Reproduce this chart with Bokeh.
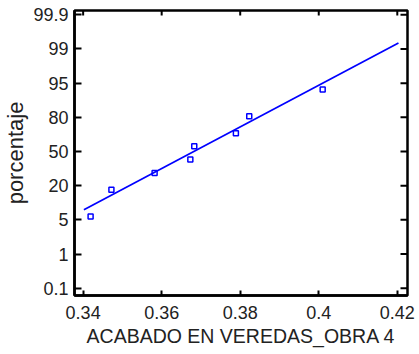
import numpy as np
from bokeh.plotting import figure
from bokeh.models import FixedTicker, Range1d
from bokeh.embed import file_html
from bokeh.resources import INLINE

# ---- data ----
x_ticks = [0.34, 0.36, 0.38, 0.4, 0.42]
x_tick_labels = ["0.34", "0.36", "0.38", "0.4", "0.42"]

y_tick_pcts = [0.1, 1, 5, 20, 50, 80, 95, 99, 99.9]
y_tick_labels = ["0.1", "1", "5", "20", "50", "80", "95", "99", "99.9"]

obs_x = [0.3419, 0.3472, 0.3582, 0.3673, 0.3683, 0.3789, 0.3823, 0.4010]
obs_pct = [6.5, 18.2, 31.1, 43.0, 54.7, 66.1, 80.5, 92.2]

fit_x = [0.3402, 0.4203]
fit_pct = [9.4, 99.16]

# probability-paper positions: tick labels evenly spaced on the axis
y_tick_pos = list(range(len(y_tick_pcts)))


def to_pos(pcts):
    return np.interp(pcts, y_tick_pcts, y_tick_pos)


FONT = "Liberation Sans"
TXT = "#222222"
BLUE = "#0000ff"

x_lo, x_hi = 0.3378, 0.4226
y_lo, y_hi = -0.214, 8.126

p = figure(width=419, height=354,
           x_range=Range1d(x_lo, x_hi), y_range=Range1d(y_lo, y_hi),
           output_backend="svg", toolbar_location=None,
           min_border_left=73, min_border_right=12,
           min_border_top=10, min_border_bottom=59)
p.grid.visible = False
p.outline_line_color = "black"
p.outline_line_width = 2.5
p.background_fill_color = "white"
p.border_fill_color = "white"

# bottom axis
xa = p.xaxis[0]
xa.ticker = FixedTicker(ticks=x_ticks)
xa.major_label_overrides = {t: l for t, l in zip(x_ticks, x_tick_labels)}
xa.axis_label = "ACABADO EN VEREDAS_OBRA 4"
# left axis
ya = p.yaxis[0]
ya.ticker = FixedTicker(ticks=y_tick_pos)
ya.major_label_overrides = {t: l for t, l in zip(y_tick_pos, y_tick_labels)}
ya.axis_label = "porcentaje"

for ax in (xa, ya):
    ax.axis_line_width = 2.5
    ax.axis_line_color = "black"
    ax.major_tick_line_width = 2
    ax.major_tick_line_color = "black"
    ax.major_tick_out = 0
    ax.minor_tick_line_color = None
    ax.major_label_text_font = FONT
    ax.major_label_text_font_size = "18px"
    ax.major_label_text_color = TXT
    ax.axis_label_text_font = FONT
    ax.axis_label_text_font_style = "normal"
    ax.axis_label_text_color = TXT

xa.major_tick_in = 5
xa.major_label_standoff = 10
xa.axis_label_text_font_size = "19.5px"
xa.axis_label_standoff = 3

ya.major_tick_in = 7
ya.major_label_standoff = 6
ya.axis_label_text_font_size = "22px"
ya.axis_label_standoff = 2

# inward ticks on the top and right frame edges (dash markers clipped by the frame)
p.scatter(x_ticks, [y_hi] * len(x_ticks), marker="dash", angle=np.pi / 2,
          size=10, line_color="black", line_width=2)
p.scatter([x_hi] * len(y_tick_pos), y_tick_pos, marker="dash",
          size=14, line_color="black", line_width=2)

p.line(fit_x, to_pos(fit_pct), line_color=BLUE, line_width=1.7)
p.scatter(obs_x, to_pos(obs_pct), marker="square", size=5,
          fill_color=None, line_color=BLUE, line_width=1.5)

open("out.html", "w").write(file_html(p, INLINE))
